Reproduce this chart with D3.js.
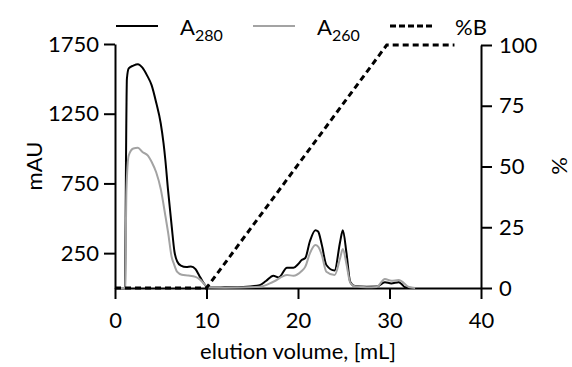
<!DOCTYPE html>
<html>
<head>
<meta charset="utf-8">
<script src="https://cdn.jsdelivr.net/npm/d3@7"></script>
<style>
  body { margin: 0; background: #fff; }
  text { font-family: Lato, "Open Sans", sans-serif; fill: #000; }
</style>
</head>
<body>
<script>
'use strict';

// A280 trace (mL, mAU)
const vol280 = [0, 1.0, 1.1, 1.2, 1.3, 1.5, 2.0, 2.5, 3.0, 3.5, 4.0, 4.5, 5.0, 5.3, 5.5, 5.8, 6.2, 6.5, 6.8, 7.2, 7.8, 8.3, 8.8, 9.2, 9.6, 10.1, 10.5, 12, 14, 15.8, 16.5, 17.3, 17.9, 18.8, 19.5, 20.0, 20.4, 20.8, 21.3, 21.9, 22.2, 22.6, 23.1, 24.0, 24.6, 24.9, 25.3, 25.7, 26.2, 27.5, 28.6, 29.5, 30.2, 31.0, 31.3, 31.7, 32.5];
const a280 = [0, 0, 5, 900, 1500, 1575, 1595, 1605, 1580, 1525, 1455, 1330, 1180, 1040, 920, 700, 440, 260, 190, 160, 150, 155, 135, 90, 45, 5, 3, 5, 8, 20, 50, 88, 76, 145, 145, 170, 200, 215, 335, 415, 405, 310, 165, 125, 330, 415, 250, 45, 14, 9, 10, 41, 33, 41, 30, 5, 0];

// A260 trace (mL, mAU)
const vol260 = [0, 1.0, 1.1, 1.25, 1.5, 2.0, 2.5, 3.0, 3.6, 4.0, 4.5, 5.0, 5.5, 5.8, 6.2, 6.4, 6.8, 7.3, 8.0, 8.8, 9.3, 9.8, 10.2, 12, 15.8, 17.3, 18.8, 19.5, 20.4, 20.8, 21.3, 21.9, 22.2, 22.6, 23.1, 24.0, 24.6, 24.9, 25.3, 25.7, 26.2, 27.5, 28.6, 29.5, 30.2, 31.0, 31.3, 32.1, 32.8];
const a260 = [0, 0, 5, 700, 950, 1000, 1005, 975, 950, 905, 830, 710, 520, 400, 220, 180, 115, 95, 90, 80, 60, 25, 3, 2, 9, 45, 93, 88, 122, 153, 249, 308, 296, 237, 117, 93, 213, 280, 170, 40, 12, 6, 8, 65, 52, 57, 50, 7, 0];

// gradient %B
const volB = [0, 10, 29.7, 37.1];
const pctB = [0, 0, 100, 100];

const xTicks = [0, 10, 20, 30, 40];
const yLeftTicks = [250, 750, 1250, 1750];
const yRightTicks = [0, 25, 50, 75, 100];

const W = 572, H = 367;
const margin = { left: 115, right: 91, top: 44, bottom: 79 };

const svg = d3.select('body').append('svg')
  .attr('width', W)
  .attr('height', H);

const x = d3.scaleLinear().domain([0, 40]).range([margin.left, W - margin.right]);
const yL = d3.scaleLinear().domain([0, 1750]).range([H - margin.bottom, margin.top]);
const yR = d3.scaleLinear().domain([0, 100]).range([H - margin.bottom, margin.top + 1]);

// axes
function styleAxis(g) {
  g.selectAll('path, line').attr('stroke', '#000').attr('stroke-width', 2);
  g.selectAll('text').style('font-size', '22px').attr('fill', '#000');
}

svg.append('g')
  .attr('transform', `translate(0,${H - margin.bottom})`)
  .call(d3.axisBottom(x).tickValues(xTicks).tickSize(11).tickSizeOuter(0).tickPadding(13))
  .call(styleAxis);

svg.append('g')
  .attr('transform', `translate(${margin.left},0)`)
  .call(d3.axisLeft(yL).tickValues(yLeftTicks).tickFormat(d3.format('d'))
    .tickSize(11).tickSizeOuter(0).tickPadding(5))
  .call(styleAxis);

svg.append('g')
  .attr('transform', `translate(${W - margin.right},0)`)
  .call(d3.axisRight(yR).tickValues(yRightTicks).tickSize(11).tickSizeOuter(0).tickPadding(7))
  .call(styleAxis);

// traces
const line = (xs, ys, yScale) => d3.line()
  .x((d, i) => x(xs[i]))
  .y((d) => yScale(d))
  .curve(d3.curveMonotoneX)(ys);

svg.append('path')
  .attr('d', line(vol280, a280, yL))
  .attr('fill', 'none')
  .attr('stroke', '#000')
  .attr('stroke-width', 2);

svg.append('path')
  .attr('d', line(vol260, a260, yL))
  .attr('fill', 'none')
  .attr('stroke', '#a3a3a3')
  .attr('stroke-width', 2);

svg.append('path')
  .attr('d', d3.line().x((d, i) => x(volB[i])).y((d) => yR(d))(pctB))
  .attr('fill', 'none')
  .attr('stroke', '#000')
  .attr('stroke-width', 3)
  .attr('stroke-dasharray', '6,4');

// axis titles
svg.append('text')
  .attr('x', (x(0) + x(40)) / 2)
  .attr('y', 359)
  .attr('text-anchor', 'middle')
  .style('font-size', '22px')
  .text('elution volume, [mL]');

svg.append('text')
  .attr('transform', 'translate(42,166)rotate(-90)')
  .attr('text-anchor', 'middle')
  .style('font-size', '22px')
  .text('mAU');

svg.append('text')
  .attr('transform', 'translate(567,166)rotate(-90)')
  .attr('text-anchor', 'middle')
  .style('font-size', '22px')
  .text('%');

// legend
const legend = [
  { label: 'A', sub: '280', color: '#000', dash: null, width: 2, x0: 116, tx: 180 },
  { label: 'A', sub: '260', color: '#a3a3a3', dash: null, width: 2, x0: 253, tx: 317 },
  { label: '%B', sub: '', color: '#000', dash: '6,3', width: 3, x0: 390, tx: 455 }
];

legend.forEach((d) => {
  svg.append('line')
    .attr('x1', d.x0).attr('x2', d.x0 + 42)
    .attr('y1', 26).attr('y2', 26)
    .attr('stroke', d.color)
    .attr('stroke-width', d.width)
    .attr('stroke-dasharray', d.dash);

  const t = svg.append('text')
    .attr('x', d.tx)
    .attr('y', 35)
    .style('font-size', '22px');
  t.append('tspan').text(d.label);
  if (d.sub) {
    t.append('tspan')
      .attr('dy', 6)
      .style('font-size', '16px')
      .text(d.sub);
  }
});
</script>
</body>
</html>
